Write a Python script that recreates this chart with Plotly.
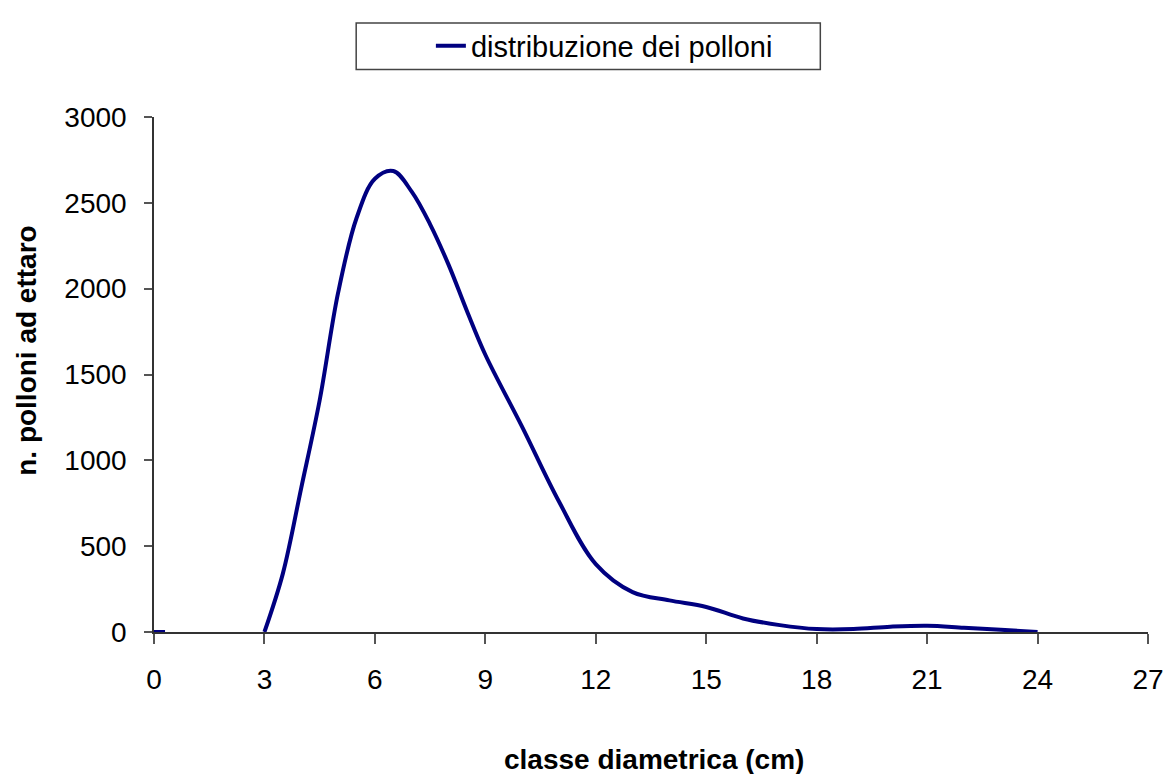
import plotly.graph_objects as go

# data (n. polloni per ettaro by diameter, cm)
classe = [0, 0.3, None, 3, 3.5, 4, 4.5, 5, 5.5, 6, 6.5, 7, 7.5, 8, 8.5, 9,
          10, 11, 12, 13, 14, 15, 16, 17, 18, 19, 20, 21, 22, 23, 24]
polloni = [0, 0, None, 0, 340, 840, 1350, 1975, 2410, 2640, 2685, 2565, 2375, 2140, 1870, 1615,
           1195, 760, 395, 232, 184, 146, 79, 40, 17, 17, 31, 37, 25, 13, 0]
x_ticks = [0, 3, 6, 9, 12, 15, 18, 21, 24, 27]
y_ticks = [0, 500, 1000, 1500, 2000, 2500, 3000]
x_title = "classe diametrica (cm)"
y_title = "n. polloni ad ettaro"
series_name = "distribuzione dei polloni"

OFF = 8  # page body margin
W, H = 1176 - OFF, 774 - OFF
L, R, T, B = 154 - OFF, 24, 111 - OFF, 142
pw, ph = W - L - R, H - T - B


def px(x):  # page pixel -> paper x
    return (x - OFF - L) / pw


def py(y):  # page pixel -> paper y
    return 1 + (T - (y - OFF)) / ph


fig = go.Figure()
fig.add_trace(go.Scatter(
    x=classe, y=polloni, mode="lines", name=series_name,
    line=dict(color="#000080", width=4, shape="spline", smoothing=1.0),
    connectgaps=False,
))

font = "Liberation Sans, Arial, sans-serif"
fig.update_layout(
    width=W, height=H,
    margin=dict(l=L, r=R, t=T, b=B),
    paper_bgcolor="white", plot_bgcolor="white",
    font=dict(family=font, size=28, color="black"),
    showlegend=True,
    legend=dict(
        x=px(432), y=py(39), xanchor="left", yanchor="middle",
        bgcolor="rgba(0,0,0,0)", borderwidth=0, font=dict(size=29),
        orientation="h",
    ),
    xaxis=dict(
        range=[0, 27], tickvals=x_ticks, ticktext=[str(v) for v in x_ticks],
        showgrid=False, zeroline=False, showline=True, linecolor="#333",
        linewidth=1.5, ticks="outside", ticklen=10, tickcolor="#555", tickwidth=1.5,
        tickfont=dict(size=28), ticklabelstandoff=12,
    ),
    yaxis=dict(
        range=[0, 3000], tickvals=y_ticks,
        showgrid=False, zeroline=False, showline=True, linecolor="#333",
        linewidth=1.5, ticks="outside", ticklen=8, tickcolor="#555", tickwidth=1.5,
        tickfont=dict(size=28), ticklabelstandoff=12,
    ),
)
fig.add_annotation(text="<b>" + x_title + "</b>", xref="paper", yref="paper",
                   x=px(656), y=py(761), xanchor="center", yanchor="middle",
                   showarrow=False, font=dict(size=28))
fig.add_annotation(text="<b>" + y_title + "</b>", xref="paper", yref="paper",
                   x=px(26), y=py(348), xanchor="center", yanchor="middle",
                   textangle=-90, showarrow=False, font=dict(size=28))
fig.add_shape(type="rect", xref="paper", yref="paper",
              x0=px(357), x1=px(823), y0=py(63), y1=py(16),
              line=dict(color="#444", width=1.5), fillcolor="rgba(0,0,0,0)")

fig.write_html("out.html")
